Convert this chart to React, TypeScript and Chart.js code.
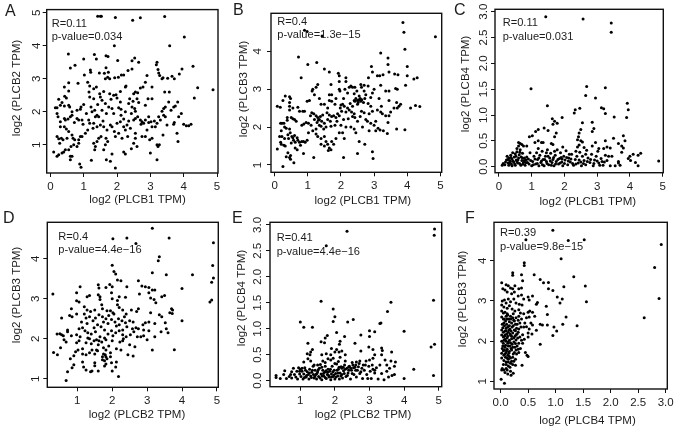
import { useEffect, useRef } from "react";
import { Chart, registerables } from "chart.js";

Chart.register(...registerables);

type Pt = [number, number];

const pointsA: Pt[] = [[1.42,4.9],[1.5,4.9],[1.53,4.9],[1.95,4.86],[2.47,4.78],[2.7,4.85],[3.43,4.89],[4.02,4.27],[3.58,4],[1.92,4],[0.54,3.75],[1.32,3.74],[1.38,3.6],[1,3.6],[1.67,3.7],[1.73,3.68],[2.02,3.56],[2.53,3.63],[2.45,3.55],[2.65,3.5],[3.2,3.5],[3.18,3.43],[0.6,3.33],[0.74,3.41],[1.67,3.34],[1.2,3.27],[1.21,3.2],[1.02,3.12],[1.47,3.18],[1.62,3.17],[1.74,3.2],[1.72,3.05],[1.78,3],[1.65,3],[1.93,3.03],[2.04,3.05],[2.13,3.12],[2.2,3.12],[2.33,3.25],[2.45,3.3],[2.9,3.1],[3.23,3.28],[3.25,3.18],[3.28,3.1],[3.35,3],[3.38,3.03],[3.52,3.02],[3.65,3.08],[3.72,3],[3.87,3.15],[3.95,3.3],[4.28,3.38],[3.57,2.6],[3.43,2.6],[4.42,2.73],[4.88,2.67],[4.32,2.42],[0.25,2.38],[0.43,2.47],[0.48,2.42],[0.35,2.28],[0.55,2.63],[0.42,2.75],[0.55,2.88],[0.83,2.87],[1.12,2.9],[1.18,2.78],[1.3,2.7],[1.38,2.75],[1.16,2.6],[1.18,2.45],[1.3,2.4],[1.48,2.55],[1.5,2.45],[1.55,2.35],[1.78,2.55],[1.9,2.5],[1.97,2.52],[2,2.42],[2.1,2.3],[1.65,2.25],[1.75,2.15],[1.85,2.1],[2.25,2.75],[2.27,2.78],[2.1,2.62],[2.5,2.55],[2.55,2.6],[2.6,2.4],[2.38,2.4],[2.35,2.25],[2.45,2.15],[2.53,2.1],[2.7,2.72],[2.78,2.75],[2.85,2.9],[3.05,2.75],[2.93,2.4],[3.05,2.4],[2.85,2.2],[3.4,2.1],[3.45,2.15],[3.55,2.3],[3.7,2.15],[3.75,2.18],[3.82,2.3],[3.93,1.95],[0.15,2.12],[0.2,2.12],[0.3,2.2],[0.55,2.2],[0.58,2.15],[0.65,2],[0.8,2.05],[0.9,2.08],[0.92,2.15],[1,2.22],[1.08,1.95],[1.25,2],[1.33,2.05],[1.4,1.9],[1.45,1.85],[0.2,1.95],[0.23,1.85],[0.3,1.7],[0.42,1.8],[0.45,1.75],[0.3,1.55],[0.42,1.55],[0.48,1.48],[0.53,1.78],[0.6,1.85],[0.65,1.9],[0.8,1.8],[0.85,1.75],[0.95,1.75],[0.98,1.62],[1.15,1.75],[1.18,1.65],[1.3,1.65],[1.4,1.55],[1.5,1.6],[1.6,1.55],[1.7,1.45],[1.8,1.6],[1.85,1.55],[1.92,1.4],[2,1.65],[2.1,1.7],[2.2,1.55],[2.3,1.6],[2.4,1.5],[2.5,1.75],[2.55,1.8],[2.7,1.75],[2.75,1.7],[2.85,1.75],[2.95,1.85],[3.02,1.7],[3.05,1.55],[3.15,1.55],[3.2,1.65],[3.3,1.75],[3.4,1.9],[3.5,1.6],[3.7,1.62],[3.72,1.68],[3.85,1.85],[4,1.62],[4.08,1.58],[4.15,1.58],[4.22,1.62],[0.2,1.25],[0.25,1.18],[0.33,1.2],[0.38,1.15],[0.28,1.05],[0.55,1.4],[0.65,1.3],[0.68,1.2],[0.73,1.15],[0.7,1],[0.85,1.15],[0.9,1.25],[0.95,1.25],[0.85,1.05],[0.8,0.95],[0.62,0.95],[0.55,0.85],[0.45,0.85],[0.4,0.78],[0.35,0.75],[0.1,0.78],[0.2,0.65],[0.25,0.7],[0.6,0.65],[0.65,0.65],[0.6,0.55],[0.88,0.42],[0.92,0.32],[1.23,0.53],[1.33,0.85],[1.35,0.95],[1.3,1.05],[1.4,1.1],[1.45,1.2],[1.52,1.25],[1.67,1.2],[1.72,1.1],[1.65,1],[1.6,0.85],[1.68,0.55],[1.8,0.5],[1.95,0.3],[1.85,0.72],[1.95,1.25],[2.05,1.35],[2.15,1.2],[2.2,0.78],[2.25,0.72],[2.32,1.25],[2.43,0.88],[2.5,1.05],[2.55,1.2],[2.6,0.95],[2.75,1.25],[2.85,1.25],[2.98,1.15],[3,0.75],[3.05,1.2],[3.2,0.55],[3.2,1],[3.23,0.95],[3.27,1],[3.38,1.3],[3.8,1.35],[3.83,1.1],[1.22,2.15],[1.55,2.05],[1.68,1.95],[1.9,1.95],[2.12,1.9],[2.25,2],[2.43,1.95],[2.55,2.02],[2.62,1.85],[2.8,1.65],[3.35,2.02],[3.45,1.85],[3.62,2.05],[1.12,1.45],[1.28,1.5],[2.25,1.45],[2.55,1.35],[2.9,1.45],[0.42,2.18],[0.72,1.68],[0.5,1.2],[1.05,1.35],[1.35,1.85],[1.58,1.72],[2.05,2.12],[2.65,2.28],[2.72,1.62],[3.12,1.72],[2.2,1.78],[2.35,1.72],[1.82,2.38],[1.6,2.62],[1.42,2.22],[2.48,2.32],[2.62,2.58],[2.12,2.08],[2.95,1.68],[3.25,1.85]];

const pointsB: Pt[] = [[3.87,4.76],[3.9,4.5],[3.93,4.05],[4.85,4.38],[0.72,3.85],[1,3.65],[1.27,3.7],[0.98,4.52],[1.43,4.4],[0.9,4.55],[3.2,3.95],[3.42,3.82],[3.42,3.65],[2.92,3.6],[2.95,3.45],[3.1,3.35],[3.17,3.35],[3.27,3.38],[3.45,3.45],[3.62,3.4],[3.72,3.38],[4,3.6],[4,3.35],[4.2,3.27],[4.3,3.3],[3.95,3.1],[3.7,3],[3.65,3.02],[3.35,2.95],[3.45,2.95],[3.2,3.1],[3,3],[0.8,3.3],[1.5,3.53],[1.65,3.45],[1.92,3.42],[1.95,3.35],[2.15,3.3],[2.15,3.2],[2.83,3.3],[1.95,3.2],[1.7,3.12],[1.3,3.12],[1.25,3.05],[1.15,3],[1.13,2.95],[1.2,2.85],[1.4,2.6],[1.35,2.75],[2.4,2.7],[2.45,2.75],[2.5,2.7],[2.52,2.65],[2.55,2.72],[2.58,2.75],[2.6,2.68],[2.63,2.72],[2.5,2.6],[2.68,2.65],[2.42,2.68],[2.72,2.75],[2.75,2.85],[2.7,2.95],[2.62,3.05],[2.6,3.12],[2.7,3.1],[2.82,3.08],[2.42,3.05],[2.3,3.08],[2.25,3.05],[2.35,3.05],[2.12,3],[1.95,3],[1.97,2.95],[2.2,2.9],[2.4,2.88],[2.08,2.75],[1.65,2.85],[1.72,2.85],[1.85,2.75],[1.65,2.7],[1.72,2.68],[1.6,2.5],[1.5,2.6],[0.08,2.55],[0.17,2.52],[0.25,2.7],[0.32,2.82],[0.45,2.8],[0.48,2.75],[0.45,2.65],[0.45,2.55],[0.45,2.45],[0.55,2.5],[0.7,2.52],[0.75,2.42],[0.85,2.42],[0.9,2.42],[0.98,2.68],[1.05,2.7],[1.12,2.38],[1.18,2.35],[1.25,2.3],[0.38,2.25],[0.38,2.18],[0.5,2.25],[0.55,2.22],[0.6,2.2],[0.65,2.15],[0.82,2.05],[0.88,2.08],[0.95,2.12],[1.02,2.1],[1.1,2.05],[0.18,2.1],[0.22,2.1],[0.28,2.1],[0.3,2],[0.35,1.97],[0.2,1.9],[0.45,1.95],[0.47,1.85],[0.15,1.75],[0.22,1.75],[0.3,1.7],[0.4,1.8],[0.42,1.7],[0.52,1.75],[0.55,1.72],[0.6,1.78],[0.57,1.65],[0.62,1.6],[0.7,1.65],[0.75,1.6],[0.82,1.62],[0.87,1.62],[0.92,1.6],[0.98,1.65],[0.18,1.6],[0.2,1.55],[0.28,1.52],[0.32,1.5],[0.08,1.42],[0.4,1.32],[0.35,1.22],[0.45,1.2],[0.48,1.25],[0.48,1.15],[0.62,1.45],[0.68,1.4],[0.87,1.3],[0.25,0.96],[0.58,1.06],[1.18,1.2],[1.2,2.2],[1.3,2.25],[1.35,2.2],[1.38,2.28],[1.42,2.15],[1.5,2.1],[1.55,2],[1.6,2.2],[1.68,2.15],[1.72,2.28],[1.78,2.3],[1.85,2.25],[1.9,2.35],[1.95,2.3],[1.98,2.5],[2.05,2.6],[2.1,2.55],[2.15,2.4],[2.2,2.5],[2.25,2.45],[2.32,2.4],[2.4,2.35],[2.42,2.25],[2.5,2.15],[2.75,2.2],[2.8,2.15],[2.9,2.1],[3,2.05],[3.05,2.15],[3.1,2.45],[3.2,2.4],[3.25,2.35],[3.35,2.3],[3.45,2.3],[3.5,2.4],[3.6,2.5],[3.7,2.5],[3.75,2.55],[3.8,2.6],[3.68,2.65],[4.1,2.5],[4.25,2.57],[4.38,2.54],[3.45,2.7],[3.15,2.75],[2.9,2.55],[2.95,2.42],[1.35,2.05],[1.25,1.95],[1.15,1.9],[1.25,1.82],[1.3,1.75],[1.4,1.7],[1.5,1.75],[1.55,1.62],[1.6,1.55],[1.65,1.45],[1.62,1.38],[1.7,1.4],[1.4,1.55],[1.5,1.5],[1.78,1.55],[1.85,1.7],[1.95,1.85],[2.05,1.85],[2.1,1.7],[2.08,1.2],[2.5,1.3],[2.15,2],[2.3,2],[2.4,1.95],[2.45,1.85],[2.55,1.62],[2.72,1.55],[2.95,1.35],[2.97,1.17],[3.12,1.97],[3.18,1.92],[3.28,1.9],[3.4,1.83],[3.68,1.95],[3.93,1.93],[3.42,2.12],[2.65,2],[2.85,1.9],[3.05,1.9],[1.28,2.12],[1.45,2.32],[1.58,2.38],[1.82,2.6],[2.28,2.62],[2.02,2.42],[2.62,2.42],[2.58,2.28],[2.7,2.38],[2.85,2.35],[3.22,2.55],[2.82,2.62],[1.02,1.85],[1.08,2.3],[1.7,2.02],[1.82,2.05],[2.22,2.22],[2.08,2.2],[1.32,2.18],[1.4,2.02],[1.48,1.95],[0.68,1.72],[0.5,1.58],[0.78,1.52],[1.72,1.62],[1.88,2.15],[2,2.05],[2.35,2.55],[2.55,2.82],[2.48,2.95],[2.9,2.78],[2.95,2.9],[2.35,2.28],[1.65,2.32],[2,2.58]];

const pointsC: Pt[] = [[1.43,2.9],[2.57,2.86],[3.43,2.78],[3.43,2.6],[0.98,1.51],[2.68,1.55],[3.25,1.53],[2.65,1.38],[2.95,1.33],[1.48,1.18],[3.92,1.23],[3.95,1.1],[3.13,1.14],[3.2,1.12],[3.25,1.03],[3.52,0.96],[3.9,0.95],[2.33,1.1],[2.3,1.04],[2.47,1.13],[1.93,0.95],[1.63,0.93],[1.7,0.88],[1.65,0.82],[1.78,0.84],[2.55,0.85],[2.85,0.86],[2.9,0.74],[2.85,0.68],[2.5,0.72],[2.45,0.65],[2.43,0.58],[1.38,0.75],[1.5,0.7],[1.2,0.72],[1.12,0.68],[1.02,0.6],[0.93,0.58],[1.75,0.65],[1.7,0.58],[1.2,0.5],[2.4,0.52],[2.5,0.5],[2.55,0.48],[2.45,0.42],[2.95,0.47],[3.25,0.5],[3.5,0.55],[3.8,0.6],[3.85,0.5],[3.65,0.45],[3.75,0.4],[3.8,0.36],[3.75,0.28],[3.3,0.38],[3.4,0.36],[3.2,0.35],[1.3,0.47],[1.35,0.47],[1.1,0.47],[0.6,0.47],[0.65,0.45],[0.7,0.43],[0.75,0.4],[0.85,0.4],[0.6,0.4],[0.55,0.35],[1.6,0.45],[1.65,0.43],[1.95,0.38],[4,0.2],[4.1,0.24],[4.25,0.22],[4.33,0.26],[3.95,0.16],[4.02,0.12],[4.17,0.08],[4.25,0.02],[4.88,0.11],[3.65,0.07],[3.7,0.03],[3.65,0.1],[3.4,0.02],[3.3,0.12],[3.45,0.2],[3.35,0.2],[0.1,0.03],[0.13,0.06],[0.18,0.04],[0.2,0.09],[0.23,0.13],[0.25,0.2],[0.28,0.07],[0.3,0.03],[0.3,0.17],[0.33,0.12],[0.36,0.22],[0.38,0.05],[0.4,0.15],[0.42,0.27],[0.45,0.09],[0.47,0.19],[0.5,0.03],[0.5,0.25],[0.53,0.13],[0.55,0.29],[0.57,0.07],[0.6,0.17],[0.62,0.23],[0.65,0.33],[0.67,0.03],[0.7,0.12],[0.72,0.26],[0.75,0.08],[0.78,0.17],[0.8,0.03],[0.83,0.13],[0.87,0.08],[0.9,0.15],[0.95,0.27],[1,0.02],[1.03,0.1],[1.07,0.2],[1.12,0.05],[1.15,0.27],[1.18,0.14],[1.22,0.02],[1.25,0.22],[1.28,0.08],[1.32,0.3],[1.35,0.14],[1.38,0.02],[1.42,0.2],[1.45,0.1],[1.48,0.33],[1.52,0.04],[1.55,0.17],[1.58,0.26],[1.62,0.08],[1.65,0.14],[1.68,0.02],[1.72,0.22],[1.75,0.1],[1.78,0.33],[1.82,0.05],[1.85,0.16],[1.88,0.27],[1.92,0.09],[1.95,0.02],[1.98,0.2],[2.02,0.13],[2.05,0.31],[2.1,0.04],[2.13,0.17],[2.18,0.09],[2.22,0.24],[2.28,0.03],[2.33,0.14],[2.38,0.2],[2.42,0.07],[2.47,0.28],[2.52,0.02],[2.55,0.2],[2.6,0.12],[2.65,0.04],[2.68,0.32],[2.72,0.17],[2.78,0.08],[2.83,0.24],[2.88,0.02],[2.92,0.13],[2.97,0.2],[3.02,0.3],[3.05,0.07],[3.12,0.16],[3.18,0.03],[3.22,0.09],[3.55,0.02],[3.25,0.22],[0.4,0.02],[0.55,0.1],[0.35,0.1],[0.72,0.17],[1.2,0.35],[1.45,0.27],[1.7,0.3],[2.35,0.3],[2.65,0.24],[2.15,0.24],[1.9,0.18],[2.4,0.38],[2.6,0.37],[2.85,0.4],[3.05,0.35],[0.27,0.14],[0.32,0.07],[0.37,0.18],[0.43,0.11],[0.48,0.05],[0.52,0.2],[0.58,0.13],[0.63,0.06],[0.64,0.28],[0.68,0.19],[0.73,0.05],[0.77,0.12],[0.82,0.08],[0.85,0.19],[0.92,0.05],[0.97,0.12],[1.05,0.04],[1.1,0.15],[1.17,0.06],[1.22,0.17],[1.3,0.11],[1.33,0.04],[1.4,0.14],[1.47,0.06],[1.5,0.2],[1.57,0.11],[1.6,0.03],[1.67,0.18],[1.73,0.05],[1.8,0.14],[1.87,0.07],[1.93,0.15],[2,0.06],[2.07,0.18],[2.12,0.11],[2.2,0.15],[2.25,0.06],[2.35,0.05],[2.45,0.13],[2.5,0.09],[2.58,0.06],[2.7,0.1],[2.8,0.14],[2.9,0.06],[3,0.11],[3.08,0.03],[3.15,0.1]];

const pointsD: Pt[] = [[3.15,4.76],[2.02,4.5],[2.42,4.52],[2.68,4.38],[3.63,4.52],[4.9,4.4],[3.35,4.05],[3.32,3.95],[4.88,3.83],[2,3.84],[2.05,3.68],[2.1,3.62],[3.15,3.65],[3.55,3.6],[4.3,3.6],[4.9,3.52],[4.85,3.41],[2.15,3.47],[2.25,3.45],[2.75,3.45],[2.85,3.32],[2.95,3.3],[3.05,3.28],[3.15,3.22],[3.22,3.22],[4,3.26],[2.42,3.3],[1.08,3.3],[1.6,3.35],[1.62,3.27],[1.82,3.28],[1.93,3.36],[2,3.3],[1.98,3.15],[0.3,3.12],[0.98,3.15],[1.28,3.05],[1.35,3.08],[1.6,3.1],[1.65,3.05],[1.65,2.98],[2,3],[2.15,2.96],[2.2,3.05],[2.38,3.04],[2.78,3.12],[3.05,3.15],[3.1,3.02],[3.2,2.98],[3.25,2.9],[3.42,3.05],[3.5,3.08],[4.85,2.97],[4.8,2.92],[0.98,2.95],[1.05,2.92],[1.2,2.8],[1.28,2.72],[1.38,2.68],[1.35,2.55],[1.5,2.72],[1.7,2.85],[1.72,2.75],[1.85,2.7],[1.95,2.7],[2.02,2.65],[2.15,2.85],[2.2,2.78],[2.3,2.72],[2.4,2.62],[2.55,2.72],[2.7,2.68],[2.75,2.75],[3.1,2.65],[3.35,2.6],[3.42,2.55],[3.7,2.75],[3.73,2.72],[3.65,2.65],[3.72,2.63],[0.78,2.58],[0.83,2.75],[0.85,2.55],[0.55,2.52],[0.98,2.62],[1.2,2.62],[1.25,2.52],[1.52,2.52],[1.62,2.6],[1.72,2.55],[1.82,2.5],[1.98,2.48],[2.08,2.42],[2.18,2.5],[2.28,2.45],[2.38,2.4],[2.5,2.45],[2.58,2.25],[2.68,2.28],[2.75,2.25],[2.88,2.35],[2.95,2.4],[3.05,2.42],[3.22,2.38],[3.52,2.4],[4,2.45],[0.72,2.22],[0.72,2.18],[0.83,2.08],[0.42,2.12],[0.5,2.13],[0.55,2.1],[0.6,2.08],[0.62,1.98],[0.52,1.78],[0.32,1.66],[0.43,1.6],[0.68,1.92],[0.98,2.1],[1.05,2.25],[1.15,2.28],[1.22,2.2],[1.3,2.15],[1.4,2.12],[1.48,2.28],[1.58,2.35],[1.68,2.3],[1.78,2.22],[1.88,2.12],[1.98,2.2],[2.1,2.15],[2.2,2.2],[2.3,2.1],[2.4,2.05],[2.52,2.1],[2.9,2.08],[3,1.98],[3.22,2.05],[3.4,2.18],[3.55,2.25],[3.6,2.15],[3.15,1.72],[3.78,1.73],[0.98,1.9],[1.05,1.95],[1.15,1.75],[1.25,1.9],[1.4,1.88],[1.48,1.95],[1.55,1.98],[1.6,1.85],[1.7,1.92],[1.75,1.78],[1.82,1.98],[1.9,1.82],[2,1.95],[2.12,1.75],[2.22,1.92],[2.32,2],[2.5,1.85],[2.65,1.8],[2.45,1.6],[2.6,1.57],[0.8,1.5],[0.9,1.58],[0.95,1.68],[1.02,1.72],[1.15,1.62],[1.25,1.6],[1.35,1.65],[1.5,1.62],[1.58,1.7],[1.72,1.55],[1.8,1.6],[1.85,1.5],[1.78,1.45],[0.9,1.35],[0.85,1.28],[0.72,1.18],[0.68,0.96],[1.15,1.42],[1.18,1.3],[1.25,1.22],[1.38,1.18],[1.42,1.2],[1.5,1.4],[1.6,1.2],[1.5,1.33],[1.78,1.32],[1.82,1.37],[1.98,1.4],[2.12,1.42],[2,1.2],[2.1,1.3],[2.18,1.06],[1.72,1.48],[2.25,1.72],[1.65,2.05],[1.88,2.38],[2.05,2.62],[2.12,2.32],[2.42,2.3],[2.6,2.42],[1.35,2],[1.78,2.02],[1.95,1.65],[1.45,2.45],[1.12,2.42],[1.08,2.05],[2.3,1.95],[2.72,2.05],[1.28,2.38],[1.52,2.18],[1.62,1.95],[1.82,1.72],[1.95,1.55],[1.75,1.62],[1.82,1.55],[2.02,2.08],[2.2,2.35],[2.35,2.55],[2.62,2.18],[2.9,2.22],[2.82,2.05],[3.05,2.2],[1.9,2.58],[1.75,2.42],[2.3,2.22],[1.55,1.72],[1.42,1.72],[1.3,2.02]];

const pointsE: Pt[] = [[2.35,2.88],[1.75,2.6],[4.88,2.92],[4.87,2.8],[1.6,1.53],[3.62,1.51],[4.85,1.55],[1.95,1.38],[3.52,1.33],[2,1.23],[1,1.13],[1.1,1.03],[1.35,1.03],[1.95,1.14],[2.37,1.13],[2.53,1.18],[3.3,1.1],[3.33,1.11],[2.05,0.93],[3,0.96],[3.15,0.94],[4,0.95],[1.78,0.87],[1.72,0.82],[2.28,0.85],[2.75,0.88],[3,0.85],[1.6,0.75],[1.7,0.73],[1.22,0.72],[2.15,0.76],[2.13,0.7],[2.58,0.72],[4.88,0.7],[4.78,0.65],[2.98,0.65],[3.1,0.6],[3.35,0.63],[3.37,0.58],[1.9,0.62],[2.05,0.6],[3.64,0.55],[2.75,0.57],[1.35,0.6],[1.3,0.55],[1.2,0.52],[1.28,0.5],[1.62,0.5],[1.75,0.52],[1.88,0.5],[2,0.55],[2.12,0.55],[2.2,0.57],[2.3,0.5],[2.15,0.45],[3.15,0.5],[3.35,0.5],[3.1,0.43],[3,0.4],[3.45,0.4],[3.62,0.38],[3.75,0.36],[1.1,0.36],[1.22,0.42],[1.3,0.38],[1.65,0.38],[1.8,0.42],[1.88,0.4],[1.95,0.43],[2.1,0.37],[2.3,0.38],[2.5,0.35],[2.62,0.36],[2.72,0.38],[2.9,0.38],[3.5,0.3],[3.72,0.28],[3.3,0.3],[3.58,0.24],[4.28,0.22],[3.65,0.1],[3.72,0.12],[4,0.04],[4.85,0.1],[0.3,0.1],[0.3,0.06],[0.42,0.04],[0.52,0.12],[0.55,0.19],[0.6,0.04],[0.68,0.08],[0.72,0.12],[0.75,0.17],[0.75,0.05],[0.8,0.24],[0.83,0.12],[0.87,0.07],[0.9,0.18],[0.92,0.03],[0.95,0.25],[0.98,0.13],[1,0.22],[1.02,0.08],[1.05,0.18],[1.08,0.03],[1.1,0.13],[1.13,0.25],[1.17,0.07],[1.2,0.17],[1.23,0.12],[1.25,0.03],[1.27,0.22],[1.3,0.09],[1.33,0.16],[1.37,0.28],[1.4,0.05],[1.43,0.2],[1.45,0.12],[1.47,0.03],[1.5,0.17],[1.53,0.08],[1.55,0.24],[1.58,0.31],[1.6,0.13],[1.62,0.02],[1.65,0.2],[1.68,0.09],[1.7,0.16],[1.72,0.28],[1.75,0.04],[1.78,0.12],[1.8,0.22],[1.83,0.07],[1.85,0.18],[1.88,0.02],[1.9,0.13],[1.92,0.28],[1.95,0.08],[1.98,0.2],[2,0.03],[2.02,0.14],[2.05,0.32],[2.08,0.09],[2.1,0.22],[2.13,0.03],[2.15,0.15],[2.18,0.27],[2.22,0.05],[2.25,0.19],[2.28,0.3],[2.32,0.08],[2.35,0.24],[2.38,0.15],[2.42,0.28],[2.45,0.03],[2.48,0.2],[2.52,0.3],[2.55,0.12],[2.58,0.26],[2.62,0.07],[2.65,0.2],[2.7,0.33],[2.72,0.14],[2.78,0.24],[2.8,0.04],[2.85,0.2],[2.88,0.3],[2.92,0.12],[2.95,0.04],[2.98,0.28],[3.02,0.18],[3.05,0.04],[3.1,0.22],[3.15,0.15],[3.2,0.25],[3.25,0.03],[3.35,0.14],[3.42,0.02],[3.5,0.18],[3.55,0.07],[3.15,0.2],[0.98,0.18],[1.15,0.2],[1.35,0.2],[1.62,0.26],[2.2,0.24],[2.4,0.2],[2.6,0.3],[3.08,0.3],[1.18,0.1],[1.26,0.15],[1.32,0.06],[1.38,0.12],[1.42,0.08],[1.48,0.14],[1.52,0.21],[1.57,0.05],[1.63,0.09],[1.67,0.14],[1.72,0.06],[1.74,0.19],[1.79,0.16],[1.82,0.1],[1.87,0.22],[1.9,0.07],[1.94,0.17],[1.97,0.11],[2.03,0.07],[2.06,0.2],[2.09,0.15],[2.12,0.26],[2.17,0.09],[2.2,0.12],[2.24,0.26],[2.27,0.14],[2.3,0.22],[2.36,0.1],[2.4,0.27],[2.46,0.24],[2.5,0.14],[2.54,0.25],[2.6,0.2],[2.68,0.27],[2.75,0.17],[2.82,0.3],[1.05,0.24],[1.12,0.06],[1.4,0.3],[1.5,0.3],[1.72,0.35],[2,0.33]];

const pointsF: Pt[] = [[0.95,4.76],[0.46,4.52],[1.23,4.5],[1.52,4.52],[2.92,4.4],[1.1,4.05],[0.43,3.95],[0.43,3.88],[2.8,3.83],[0.22,3.7],[0.22,3.64],[0.38,3.65],[0.61,3.65],[1.33,3.6],[0.4,3.5],[0.72,3.53],[0.78,3.45],[0.87,3.46],[0.02,3.45],[0.1,3.4],[0.14,3.38],[0.18,3.32],[0.22,3.3],[0.26,3.38],[0.33,3.3],[1.15,3.35],[1.54,3.37],[0.87,3.3],[0.95,3.26],[0.38,3.32],[0.04,3.3],[0.08,3.27],[0.12,3.22],[0.2,3.18],[0.25,3.22],[0.32,3.12],[0.38,3.15],[0.42,3.05],[0.5,3.1],[0.58,3.12],[0.52,3.02],[1.03,3.1],[1.12,3.05],[2.88,3.06],[1.56,2.98],[1.08,2.95],[0.67,2.96],[0.65,2.92],[0.83,2.87],[0.03,3],[0.07,3.02],[0.1,2.95],[0.14,3.05],[0.18,2.98],[0.24,3.05],[0.28,2.95],[0.34,2.92],[0.39,2.9],[0.02,2.9],[0.06,2.85],[0.12,2.82],[0.16,2.88],[0.21,2.8],[0.26,2.75],[0.33,2.78],[0.36,2.7],[0.42,2.68],[0.5,2.72],[0.53,2.75],[0.58,2.72],[0.02,2.75],[0.05,2.7],[0.08,2.72],[0.13,2.65],[0.18,2.62],[0.23,2.68],[0.28,2.58],[0.33,2.62],[0.38,2.55],[0.47,2.58],[0.52,2.6],[0.62,2.62],[0.85,2.66],[1.19,2.6],[2.61,2.58],[0.02,2.6],[0.05,2.55],[0.09,2.5],[0.12,2.55],[0.16,2.48],[0.2,2.45],[0.25,2.5],[0.3,2.42],[0.35,2.45],[0.55,2.45],[0.58,2.4],[0.72,2.42],[0.76,2.4],[0.85,2.4],[1.13,2.42],[1.39,2.38],[0.97,2.35],[0.03,2.42],[0.07,2.38],[0.1,2.32],[0.13,2.36],[0.17,2.3],[0.21,2.35],[0.25,2.28],[0.29,2.32],[0.33,2.3],[0.37,2.35],[0.42,2.35],[0.47,2.36],[0.52,2.3],[0.65,2.27],[1.02,2.25],[0.02,2.28],[0.05,2.22],[0.08,2.25],[0.11,2.18],[0.14,2.22],[0.18,2.15],[0.22,2.2],[0.26,2.12],[0.3,2.18],[0.35,2.1],[0.4,2.16],[0.5,2.2],[0.57,2.18],[0.02,2.15],[0.05,2.1],[0.08,2.05],[0.12,2.08],[0.16,2.02],[0.2,2.06],[0.24,1.98],[0.28,2.03],[0.33,1.95],[0.38,2.02],[0.43,2.05],[0.5,2.1],[0.95,2.14],[0.02,2],[0.05,1.95],[0.09,1.9],[0.13,1.95],[0.17,1.88],[0.21,1.92],[0.26,1.85],[0.3,1.88],[0.36,1.82],[0.4,1.95],[0.72,1.92],[0.03,1.82],[0.07,1.78],[0.12,1.8],[0.16,1.74],[0.2,1.78],[0.25,1.72],[0.29,1.68],[0.33,1.72],[0.45,1.72],[0.48,1.65],[0.5,1.62],[0.02,1.7],[0.06,1.65],[0.09,1.6],[0.13,1.65],[0.18,1.58],[0.22,1.6],[0.27,1.55],[0.02,1.58],[0.06,1.52],[0.1,1.48],[0.14,1.55],[0.18,1.45],[0.22,1.42],[0.27,1.4],[0.39,1.4],[0.05,1.42],[0.03,1.32],[0.06,1.28],[0.1,1.32],[0.14,1.38],[0.18,1.25],[0.23,1.2],[0.13,1.18],[0.19,1.15],[0.01,1.05],[0.07,0.95],[0.02,1.28],[0.32,2.22],[0.16,2.38],[0.44,2.45],[0.12,2.68],[0.15,1.7],[0.08,2.15],[0.27,2.26],[0.1,1.72],[0.24,2.52],[0.06,2.45],[0.11,2.42],[0.15,2.28],[0.19,2.25],[0.23,2.38],[0.28,2.16],[0.04,2.33],[0.07,2.12],[0.1,2.26],[0.13,2.12],[0.17,2.18],[0.2,2.12],[0.24,2.08],[0.31,2.08],[0.06,2.02],[0.1,2],[0.14,1.98],[0.18,1.96],[0.22,1.85],[0.27,1.94],[0.32,1.8],[0.04,1.88],[0.08,1.85],[0.11,1.76],[0.14,1.88],[0.19,1.82],[0.23,1.68],[0.28,1.78],[0.05,1.76],[0.08,1.68],[0.12,1.58],[0.16,1.62],[0.2,1.5],[0.24,1.5],[0.1,1.42],[0.14,1.48],[0.17,1.35],[0.08,1.22],[0.12,1.28],[0.07,2.55],[0.1,2.62],[0.15,2.55],[0.19,2.55],[0.22,2.58],[0.27,2.42],[0.32,2.52]];

const ticks0to5 = [0, 1, 2, 3, 4, 5];
const ticks1to5 = [1, 2, 3, 4, 5];
const ticks1to4 = [1, 2, 3, 4];
const ticks0to3 = [0, 0.5, 1, 1.5, 2, 2.5, 3];

const panelLetters = ["A", "B", "C", "D", "E", "F"];
const xTitles = ["log2 (PLCB1 TPM)", "log2 (PLCB1 TPM)", "log2 (PLCB1 TPM)", "log2 (PLCB2 TPM)", "log2 (PLCB2 TPM)", "log2 (PLCB4 TPM)"];
const yTitles = ["log2 (PLCB2 TPM)", "log2 (PLCB3 TPM)", "log2 (PLCB4 TPM)", "log2 (PLCB3 TPM)", "log2 (PLCB4 TPM)", "log2 (PLCB3 TPM)"];
const rLabels = ["R=0.11", "R=0.4", "R=0.11", "R=0.4", "R=0.41", "R=0.39"];
const pLabels = ["p-value=0.034", "p-value=1.3e\u221215", "p-value=0.031", "p-value=4.4e\u221216", "p-value=4.4e\u221216", "p-value=9.8e\u221215"];

const FONT = '"Liberation Sans", Arial, sans-serif';
const INK = "#1c1c1c";

// layout: canvas rect, plot box, axis ranges, text anchors, all in page pixels
const panels = [
  { pts: pointsA, xt: ticks0to5, yt: ticks1to5, xd: 0, yd: 0, cv: [0, 0, 225, 210], box: [46.7, 9, 218, 173], xr: [-0.11, 5.03], yr: [0.145, 5.1], yPad: 2.7, letter: [5, 12], r: [51.7, 24.3, 37.3], xT: [137.5, 200], yT: [17, 88] },
  { pts: pointsB, xt: ticks0to5, yt: ticks1to4, xd: 0, yd: 0, cv: [225, 0, 225, 210], box: [271, 7.3, 441.7, 172.3], xr: [-0.11, 5.04], yr: [0.807, 5.0], yPad: 6.4, letter: [233, 11], r: [277.3, 21.7, 35], xT: [362.8, 201], yT: [244, 89] },
  { pts: pointsC, xt: ticks0to5, yt: ticks0to3, xd: 0, yd: 1, cv: [450, 0, 227, 210], box: [495, 9.3, 663.3, 172.7], xr: [-0.12, 5.02], yr: [-0.116, 3.046], yPad: -0.6, letter: [454, 11], r: [502.7, 23.3, 37], xT: [587.8, 201.7], yT: [465.7, 84] },
  { pts: pointsD, xt: ticks1to5, yt: ticks1to4, xd: 0, yd: 0, cv: [0, 210, 225, 221], box: [47.3, 222.3, 218.3, 387.3], xr: [0.14, 5.04], yr: [0.79, 4.91], yPad: 4, letter: [3, 219], r: [58.3, 236.7, 250], xT: [137, 415], yT: [17, 295] },
  { pts: pointsE, xt: ticks1to5, yt: ticks0to3, xd: 0, yd: 1, cv: [225, 210, 225, 221], box: [270, 222.3, 441.7, 386.7], xr: [0.124, 5.087], yr: [-0.116, 3.05], yPad: 0.4, letter: [232, 219], r: [276.7, 237.7, 251.7], xT: [363, 415], yT: [241.7, 298] },
  { pts: pointsF, xt: ticks0to3, yt: ticks1to4, xd: 1, yd: 0, cv: [450, 210, 227, 221], box: [494, 222.3, 667.3, 389], xr: [-0.12, 3.03], yr: [0.81, 4.955], yPad: 4.4, letter: [465, 219], r: [500, 233.3, 247.3], xT: [587.5, 421], yT: [463.3, 299] },
];

function makeChart(canvas: HTMLCanvasElement, i: number) {
  const p = panels[i];
  const [cx, cy, cw, ch] = p.cv;
  const [bl, bt, br, bb] = p.box;
  const overlay = {
    id: "panelText",
    afterDraw(chart: any) {
      const { ctx, chartArea: a } = chart;
      ctx.save();
      ctx.strokeStyle = "#111";
      ctx.lineWidth = 1.4;
      ctx.strokeRect(a.left, a.top, a.width, a.height);
      ctx.fillStyle = INK;
      ctx.textBaseline = "middle";
      ctx.textAlign = "left";
      ctx.font = `11.1px ${FONT}`;
      ctx.fillText(rLabels[i], p.r[0] - cx, p.r[1] - cy);
      ctx.fillText(pLabels[i], p.r[0] - cx, p.r[2] - cy);
      ctx.textAlign = "center";
      ctx.font = `11.5px ${FONT}`;
      ctx.fillText(xTitles[i], p.xT[0] - cx, p.xT[1] - cy);
      ctx.save();
      ctx.translate(p.yT[0] - cx, p.yT[1] - cy);
      ctx.rotate(-Math.PI / 2);
      ctx.fillText(yTitles[i], 0, 0);
      ctx.restore();
      ctx.textAlign = "left";
      ctx.font = `16px ${FONT}`;
      ctx.fillText(panelLetters[i], p.letter[0] - cx, p.letter[1] - cy);
      ctx.restore();
    },
  };
  const axisBase = {
    type: "linear" as const,
    border: { display: false },
    grid: { display: true, drawOnChartArea: false, drawTicks: true, tickLength: 4, color: "#111", lineWidth: 1 },
  };
  return new Chart(canvas, {
    type: "scatter",
    data: {
      datasets: [
        {
          data: p.pts.map(([x, y]) => ({ x, y })),
          backgroundColor: "#000",
          borderWidth: 0,
          pointRadius: 1.5,
        },
      ],
    },
    options: {
      animation: false,
      responsive: false,
      devicePixelRatio: 1,
      layout: { padding: { left: 0, top: bt - cy, right: cx + cw - br, bottom: 0 } },
      plugins: { legend: { display: false }, tooltip: { enabled: false } },
      scales: {
        x: {
          ...axisBase,
          min: p.xr[0],
          max: p.xr[1],
          afterFit: (s: any) => { s.height = cy + ch - bb; },
          afterBuildTicks: (s: any) => { s.ticks = p.xt.map((value) => ({ value })); },
          ticks: {
            autoSkip: false,
            maxRotation: 0,
            minRotation: 0,
            padding: 3,
            color: INK,
            font: { family: FONT, size: 11.5 },
            callback: (v: any) => Number(v).toFixed(p.xd),
          },
        },
        y: {
          ...axisBase,
          min: p.yr[0],
          max: p.yr[1],
          afterFit: (s: any) => { s.width = bl - cx; },
          afterBuildTicks: (s: any) => { s.ticks = p.yt.map((value) => ({ value })); },
          ticks: {
            autoSkip: false,
            minRotation: 90,
            maxRotation: 90,
            crossAlign: "center",
            padding: p.yPad,
            color: INK,
            font: { family: FONT, size: 11.5 },
            callback: (v: any) => Number(v).toFixed(p.yd),
          },
        },
      },
    },
    plugins: [overlay],
  } as any);
}

function Panel({ index }: { index: number }) {
  const ref = useRef<HTMLCanvasElement>(null);
  useEffect(() => {
    const chart = makeChart(ref.current!, index);
    return () => chart.destroy();
  }, [index]);
  const [x, y, w, h] = panels[index].cv;
  return <canvas ref={ref} width={w} height={h} style={{ position: "absolute", left: x, top: y, width: w, height: h, display: "block" }} />;
}

export default function App() {
  return (
    <div style={{ position: "fixed", left: 0, top: 0, width: 677, height: 431, background: "#fff", overflow: "hidden" }}>
      {panels.map((_, i) => (
        <Panel key={i} index={i} />
      ))}
    </div>
  );
}
